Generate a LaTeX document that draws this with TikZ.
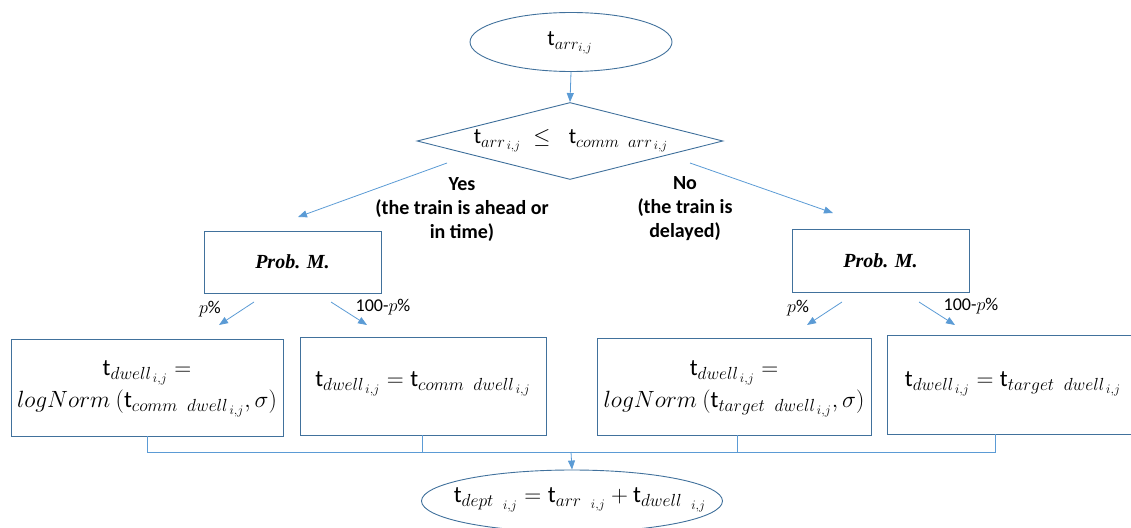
\RequirePackage{fix-cm}
\documentclass[tikz,border=0pt]{standalone}
\usepackage{fontspec}
\setmainfont{Carlito}
\newfontfamily\probfont{Liberation Serif}
\usetikzlibrary{shapes.geometric,arrows.meta}
\DeclareMathSizes{22}{22}{16.5}{12.5}
\DeclareMathSizes{23.5}{23.5}{17.5}{13}

\definecolor{shapeedge}{HTML}{41719C}
\definecolor{flowline}{HTML}{5B9BD5}

% time symbol: upright t with italic subscript and smaller index i,j
\newcommand{\tsym}[1]{\mbox{t}_{#1_{\,i,j}}}
\newcommand{\tgap}[1]{\mbox{t}_{#1\;\;{}_{i,j}}}

\tikzset{
  x=1pt, y=-1pt,
  outline/.style={draw=shapeedge, line width=0.9pt},
  boxnode/.style={outline, rectangle, inner sep=0pt},
  oval/.style={outline, ellipse, inner sep=0pt},
  flow/.style={draw=flowline, line width=0.8pt, -{Triangle[length=9pt,width=7pt]}},
  joint/.style={draw=flowline, line width=0.8pt},
  eqtext/.style={font=\fontsize{22}{32}\selectfont, align=center, inner sep=0pt},
  eqlarge/.style={font=\fontsize{23.5}{32}\selectfont, align=center, inner sep=0pt},
  casetext/.style={font=\fontsize{20}{24}\selectfont\bfseries, align=center, inner sep=0pt},
  pcttext/.style={font=\fontsize{18}{20}\selectfont, inner sep=0pt},
  probtext/.style={font=\fontsize{20}{22}\selectfont\probfont\bfseries\itshape, inner sep=0pt}
}

\begin{document}
\begin{tikzpicture}
\useasboundingbox (0,0) rectangle (1131,527);

% start: arrival time
\node[oval, minimum width=202pt, minimum height=59pt] (start) at (571,42) {};
\node[eqtext] (starttext) at (570,43) {$\mbox{t}_{arr_{i,j}}$};

% decision diamond
\node[outline, diamond, minimum width=306pt, minimum height=77pt, inner sep=0pt] (cond) at (570,141) {};
\node[eqtext] (condtext) at (571,141) {$\tsym{arr}\;\leq\;\;\mbox{t}_{comm\;\;arr_{\,i,j}}$};

\draw[flow] (start.south) -- (cond.north);

% branch labels
\node[casetext] (yes) at (462,210) {Yes\\(the train is ahead or\\in time)};
\node[casetext] (no) at (685,209) {No\\(the train is\\delayed)};

\coordinate (yesfrom) at (447,163);
\coordinate (yesto) at (298,217);
\coordinate (nofrom) at (690,163);
\coordinate (noto) at (833,213);
\draw[flow] (yesfrom) -- (yesto);
\draw[flow] (nofrom) -- (noto);

% probability model boxes
\node[boxnode, minimum width=177pt, minimum height=62pt] (probL) at (292.5,262) {};
\node[probtext] (probLtext) at (292.5,262) {Prob. M.};
\node[boxnode, minimum width=177pt, minimum height=63pt] (probR) at (880.5,260.5) {};
\node[probtext] (probRtext) at (880.5,260.5) {Prob. M.};

% split arrows under the left model
\coordinate (lpfrom) at (254,302);
\coordinate (lpto) at (219,325);
\coordinate (lqfrom) at (331,302);
\coordinate (lqto) at (367,325);
\draw[flow] (lpfrom) -- (lpto);
\draw[flow] (lqfrom) -- (lqto);
\node[pcttext] (lp) at (210,309) {$p$\%};
\node[pcttext] (lq) at (383,307) {100-$p$\%};

% split arrows under the right model
\coordinate (rpfrom) at (842,302);
\coordinate (rpto) at (807,325);
\coordinate (rqfrom) at (919,302);
\coordinate (rqto) at (955,325);
\draw[flow] (rpfrom) -- (rpto);
\draw[flow] (rqfrom) -- (rqto);
\node[pcttext] (rp) at (798,308) {$p$\%};
\node[pcttext] (rq) at (971,306) {100-$p$\%};

% dwell time boxes
\node[boxnode, minimum width=272pt, minimum height=97pt] (box1) at (147,387.5) {};
\node[eqlarge] (box1text) at (147,389) {$\tsym{dwell} =$\\$logNorm\ (\mbox{t}_{comm\;\;dwell_{\,i,j}},\sigma)$};

\node[boxnode, minimum width=246pt, minimum height=98pt] (box2) at (423,386) {};
\node[eqlarge] (box2text) at (423,384) {$\tsym{dwell} = \mbox{t}_{comm\;\;dwell_{\,i,j}}$};

\node[boxnode, minimum width=274pt, minimum height=97pt] (box3) at (734,386.5) {};
\node[eqlarge] (box3text) at (734,389) {$\tsym{dwell} =$\\$logNorm\ (\mbox{t}_{target\;\;dwell_{\,i,j}},\sigma)$};

\node[boxnode, minimum width=248pt, minimum height=99pt] (box4) at (1011,384.5) {};
\node[eqlarge] (box4text) at (1013,384) {$\tsym{dwell} = \mbox{t}_{target\;\;dwell_{\,i,j}}$};

% collecting line
\coordinate (bus) at (571,452);
\coordinate (drop1) at (147,436);
\coordinate (drop2) at (422,435);
\coordinate (drop3) at (737,435);
\coordinate (drop4) at (995,434);
\draw[joint] (drop1) -- (drop1 |- bus) -- (drop4 |- bus) -- (drop4);
\draw[joint] (drop2) -- (drop2 |- bus);
\draw[joint] (drop3) -- (drop3 |- bus);

% departure time
\node[oval, minimum width=301pt, minimum height=62pt] (finish) at (572,501) {};
\node[eqlarge] (finishtext) at (580,500) {$\tgap{dept} = \tgap{arr} + \tgap{dwell}$};

\draw[flow] (bus) -- (finish.north);
\end{tikzpicture}
\end{document}
